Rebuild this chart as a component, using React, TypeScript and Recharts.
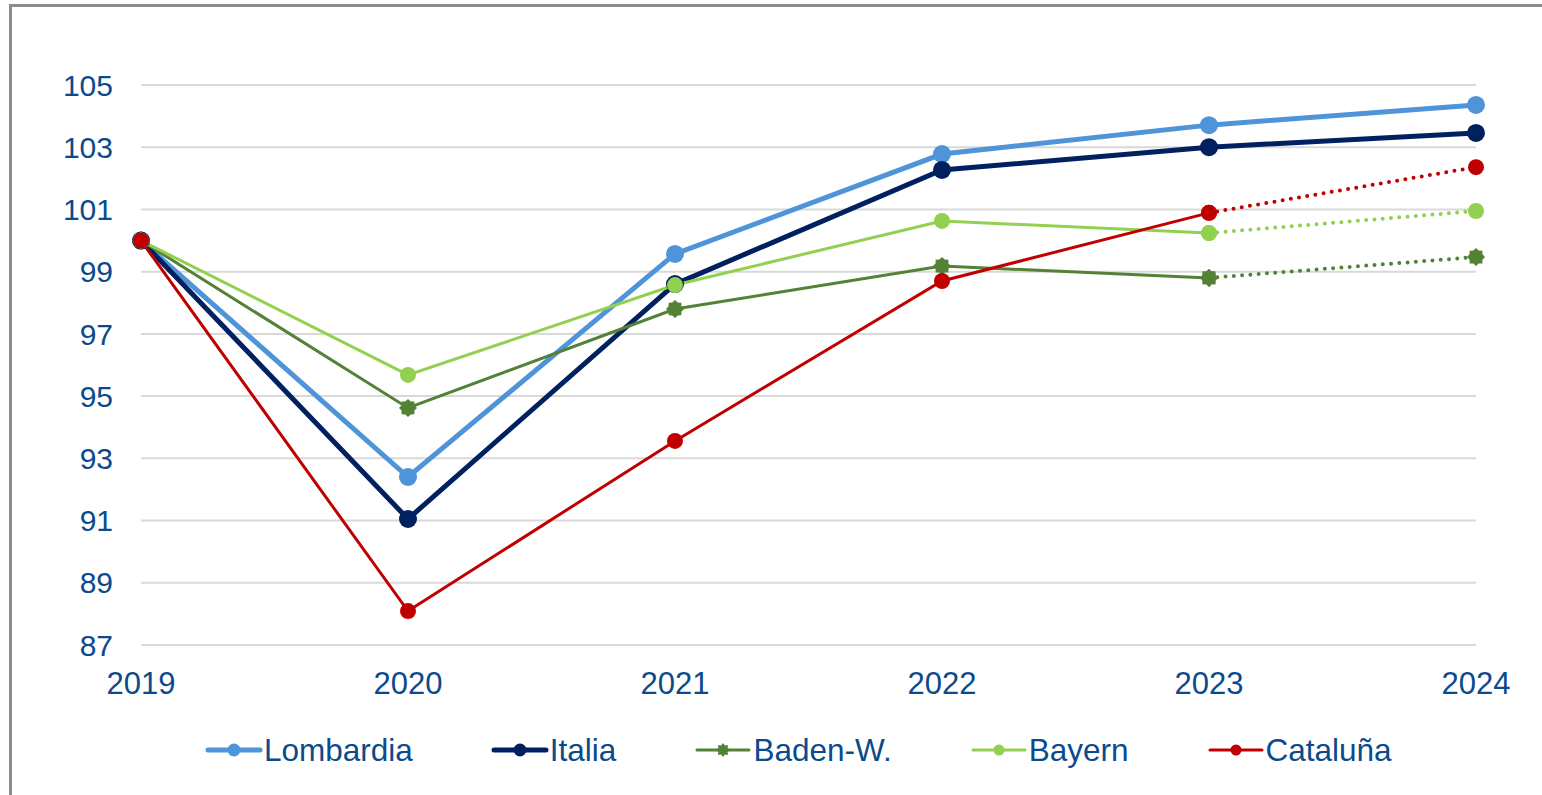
import { LineChart, Line, XAxis, YAxis, CartesianGrid } from "recharts";

const years = ["2019", "2020", "2021", "2022", "2023", "2024"];
const lombardia = [100, 92.4, 99.57, 102.78, 103.71, 104.36];
const italia = [100, 91.05, 98.6, 102.27, 103.0, 103.46];
const badenW = [100, 94.62, 97.8, 99.18, 98.8, 99.47];
const bayern = [100, 95.68, 98.57, 100.63, 100.24, 100.95];
const cataluna = [100, 88.09, 93.56, 98.7, 100.89, 102.36];
const yTicks = [87, 89, 91, 93, 95, 97, 99, 101, 103, 105];
// last actual year; values after it are projections (dotted)
const lastActual = 4;

const TEXT = "#0b4a8c";
const FONT = "'Liberation Sans', Arial, sans-serif";

const series = [
  { key: "lombardia", name: "Lombardia", color: "#4f93d8", width: 5, r: 9, star: false },
  { key: "italia", name: "Italia", color: "#002060", width: 5, r: 9, star: false },
  { key: "badenW", name: "Baden-W.", color: "#538135", width: 3, r: 8, star: true },
  { key: "bayern", name: "Bayern", color: "#92d050", width: 3, r: 8, star: false },
  { key: "cataluna", name: "Cataluña", color: "#c00000", width: 3, r: 8, star: false },
];

const data = years.map((year, i) => ({
  year,
  lombardia: lombardia[i],
  italia: italia[i],
  badenW: i <= lastActual ? badenW[i] : null,
  bayern: i <= lastActual ? bayern[i] : null,
  cataluna: i <= lastActual ? cataluna[i] : null,
  badenWP: i >= lastActual ? badenW[i] : null,
  bayernP: i >= lastActual ? bayern[i] : null,
  catalunaP: i >= lastActual ? cataluna[i] : null,
}));

const starPoints = (cx: number, cy: number, ro: number, ri: number) => {
  const pts: string[] = [];
  for (let k = 0; k < 16; k++) {
    const rad = k % 2 === 0 ? ro : ri;
    const a = (Math.PI * k) / 8;
    pts.push(`${cx + rad * Math.cos(a)},${cy + rad * Math.sin(a)}`);
  }
  return pts.join(" ");
};

const makeDot = (color: string, r: number, star: boolean) => (props: any) => {
  const { cx, cy, index, value } = props;
  if (value == null || cx == null || cy == null) return <g key={`d-${index}`} />;
  if (star)
    return <polygon key={`d-${index}`} points={starPoints(cx, cy, r + 1, r - 1)} fill={color} />;
  return <circle key={`d-${index}`} cx={cx} cy={cy} r={r} fill={color} />;
};

const LegendIcon = ({ s }: { s: (typeof series)[number] }) => (
  <svg width={58} height={22} style={{ display: "block" }}>
    <line x1={3} y1={11} x2={55} y2={11} stroke={s.color} strokeWidth={s.width} strokeLinecap="round" />
    {s.star ? (
      <polygon points={starPoints(29, 11, 7, 5)} fill={s.color} />
    ) : (
      <circle cx={29} cy={11} r={s.r - 2.5} fill={s.color} />
    )}
  </svg>
);

export default function App() {
  return (
    <div
      style={{
        position: "absolute",
        left: 0,
        top: 0,
        width: 1542,
        height: 795,
        overflow: "hidden",
        background: "#fff",
        fontFamily: FONT,
      }}
    >
      <div
        style={{
          position: "absolute",
          left: 9,
          top: 4,
          width: 1700,
          height: 900,
          border: "3px solid #8c8c8c",
        }}
      />
      <div style={{ position: "absolute", left: 0, top: 0 }}>
        <LineChart
          width={1542}
          height={720}
          data={data}
          margin={{ top: 85, right: 66, left: 41, bottom: 0 }}
        >
          <CartesianGrid vertical={false} stroke="#d9d9d9" strokeWidth={2} />
          <XAxis
            dataKey="year"
            axisLine={false}
            tickLine={false}
            height={75}
            tickMargin={21}
            interval={0}
            tick={{ fill: TEXT, fontSize: 31, fontFamily: FONT }}
          />
          <YAxis
            domain={[87, 105]}
            ticks={yTicks}
            axisLine={false}
            tickLine={false}
            width={100}
            tickMargin={22}
            interval={0}
            tick={{ fill: TEXT, fontSize: 30, fontFamily: FONT }}
          />
          {series.map((s) => (
            <Line
              key={s.key}
              dataKey={s.key}
              stroke={s.color}
              strokeWidth={s.width}
              dot={makeDot(s.color, s.r, s.star)}
              activeDot={false}
              isAnimationActive={false}
              connectNulls={false}
            />
          ))}
          {series
            .filter((s) => s.key !== "lombardia" && s.key !== "italia")
            .map((s) => (
              <Line
                key={s.key + "P"}
                dataKey={s.key + "P"}
                stroke={s.color}
                strokeWidth={4}
                strokeDasharray="0 8.3"
                strokeLinecap="round"
                dot={makeDot(s.color, s.r, s.star)}
                activeDot={false}
                isAnimationActive={false}
                connectNulls={false}
              />
            ))}
        </LineChart>
      </div>
      <div
        style={{
          position: "absolute",
          top: 731,
          left: 205,
          display: "flex",
          alignItems: "center",
          color: TEXT,
          fontSize: 31.5,
          lineHeight: "38px",
        }}
      >
        {series.map((s, i) => (
          <div
            key={s.key}
            style={{ display: "flex", alignItems: "center", marginRight: i < series.length - 1 ? 78 : 0 }}
          >
            <LegendIcon s={s} />
            <span style={{ marginLeft: 1 }}>{s.name}</span>
          </div>
        ))}
      </div>
    </div>
  );
}
